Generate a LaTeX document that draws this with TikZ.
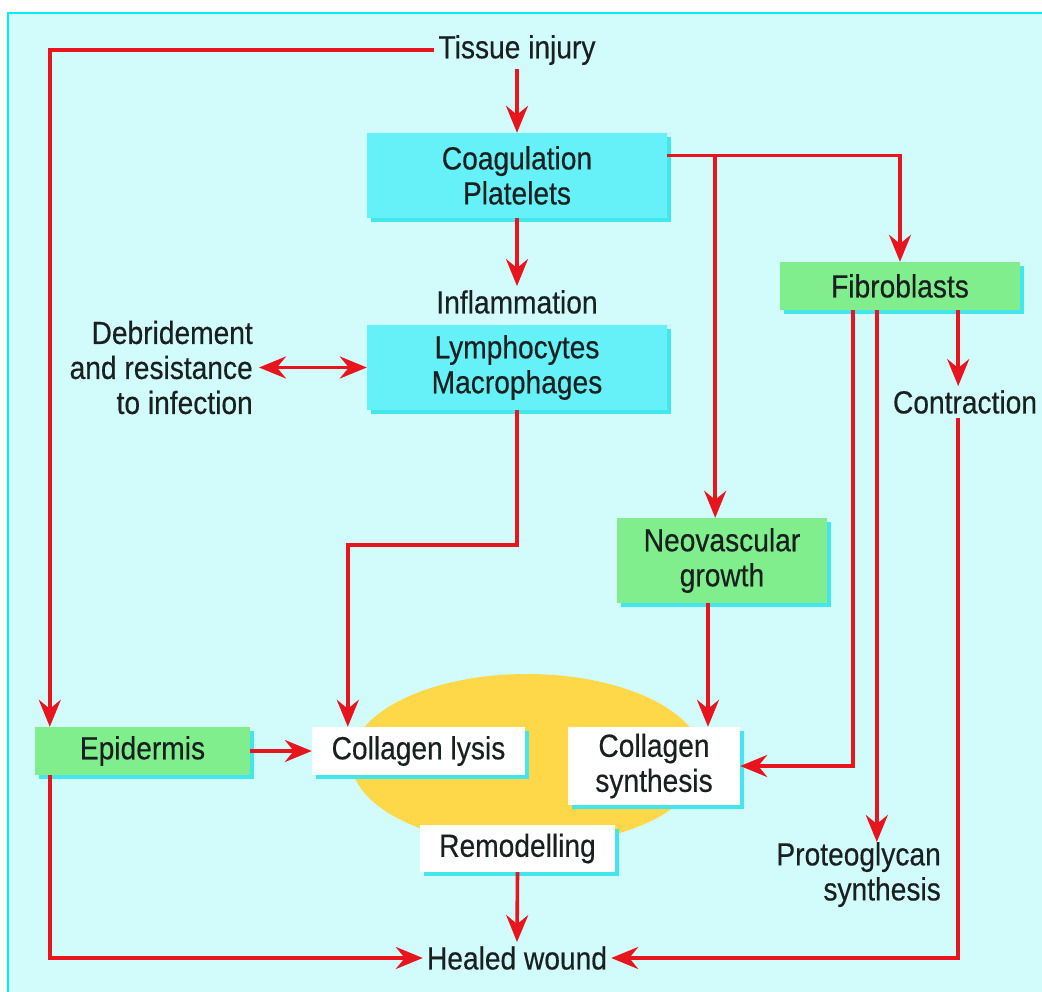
\documentclass[tikz,border=0pt]{standalone}
\usepackage{fontspec}
\setmainfont[FakeStretch=0.88,FakeBold=0.4]{Liberation Sans}
\usetikzlibrary{arrows.meta,calc,shadows}
\definecolor{bgc}{HTML}{D2FCFC}
\definecolor{bdc}{HTML}{00EEF2}
\definecolor{boxc}{HTML}{66F0F8}
\definecolor{grn}{HTML}{80EE8C}
\definecolor{ylw}{HTML}{FFD84A}
\definecolor{rd}{HTML}{E8141E}
\definecolor{shd}{HTML}{44E6EE}
\definecolor{txt}{HTML}{1A2020}
\begin{document}
\begin{tikzpicture}[x=1pt,y=-1pt,
  every node/.style={font=\fontsize{32}{35}\selectfont, text=txt},
  lbl/.style={align=center, inner sep=4pt},
  bx/.style={draw=none, align=center, inner sep=0pt,
    drop shadow={shadow xshift=4pt, shadow yshift=-4pt, fill=shd, opacity=1}},
  cbox/.style={bx, fill=boxc},
  gbox/.style={bx, fill=grn},
  wbox/.style={bx, fill=white},
  tip/.tip={Stealth[length=27pt,width=22pt,inset=9pt]},
  arr/.style={draw=rd, line width=3.6pt, -tip},
  darr/.style={draw=rd, line width=3.6pt, tip-tip}
]
\useasboundingbox (0,0) rectangle (1042,992);
\fill[white] (0,0) rectangle (1042,992);
\fill[bgc] (8,13) rectangle (1042,992);
\draw[bdc, line width=2.5pt] (8,992) -- (8,13) -- (1042,13);

% yellow ellipse
\fill[ylw] (527,760) ellipse [x radius=176, y radius=86];

% text labels
\node[lbl] (ti) at (517,50) {Tissue injury};
\node[lbl] (infl) at (517,302) {Inflammation};
\node[lbl, align=right, anchor=east, inner sep=2pt] (debr) at (255,367.5) {Debridement\\and resistance\\to infection};
\node[lbl] (contr) at (965,402) {Contraction};
\node[lbl, align=right, anchor=north east, inner sep=0pt] (proteo) at (941,842) {Proteoglycan\\synthesis};
\node[lbl] (healed) at (517,958) {Healed wound};

% boxes
\node[cbox, minimum width=300pt, minimum height=85pt] (coag) at (517,175.5) {Coagulation\\Platelets};
\node[cbox, minimum width=300pt, minimum height=85pt] (lymph) at (517,367.5) {Lymphocytes\\Macrophages};
\node[gbox, minimum width=240pt, minimum height=48pt] (fibro) at (900,286) {Fibroblasts};
\node[gbox, minimum width=210pt, minimum height=85pt] (neo) at (722,560.5) {Neovascular\\growth};
\node[gbox, minimum width=215pt, minimum height=48pt] (epi) at (142.5,751) {Epidermis};
\node[wbox, minimum width=213pt, minimum height=48pt] (lysis) at (418.5,751) {Collagen lysis};
\node[wbox, minimum width=172pt, minimum height=78pt] (synth) at (654,766) {Collagen\\synthesis};
\node[wbox, minimum width=195pt, minimum height=47pt] (remod) at (517.5,848.5) {Remodelling};

% helper coordinates
\coordinate (cE) at ($(coag.east)+(0,-20)$);
\coordinate (br) at ($(cE)+(48,0)$);
\coordinate (f1) at ($(fibro.south west)+(73,0)$);
\coordinate (f2) at ($(fibro.south west)+(97,0)$);
\coordinate (f3) at ($(fibro.south east)+(-62,0)$);
\coordinate (eTop) at ($(epi.north west)+(15,0)$);
\coordinate (eBot) at ($(epi.south west)+(15,0)$);
\coordinate (lyTop) at ($(lysis.north west)+(36,0)$);
\coordinate (nB) at ($(neo.south)+(-14,0)$);
\coordinate (dE) at ($(debr.east |- lymph.west)+(4,0)$);

% connectors
\draw[arr] (ti.west) -| (eTop);
\draw[arr] (ti.south) -- (coag.north);
\draw[arr] (coag.south) -- (infl.north);
\draw[darr] (dE) -- (lymph.west);
\draw[arr] (lymph.south) -- ++(0,135) -| (lyTop);
\draw[arr] (cE) -| (fibro.north);
\draw[arr] (br) -- (br |- neo.north);
\draw[arr] (f3) -- (f3 |- contr.north);
\draw[arr] (f1) |- (synth.east);
\draw[arr] (f2) -- (f2 |- proteo.north);
\draw[arr] (f3 |- contr.south) |- (healed.east);
\draw[arr] (eBot) |- (healed.west);
\draw[arr] (epi.east) -- (lysis.west);
\draw[arr] (nB) -- (nB |- synth.north);
\draw[arr] (remod.south) -- (healed.north);
\end{tikzpicture}
\end{document}
